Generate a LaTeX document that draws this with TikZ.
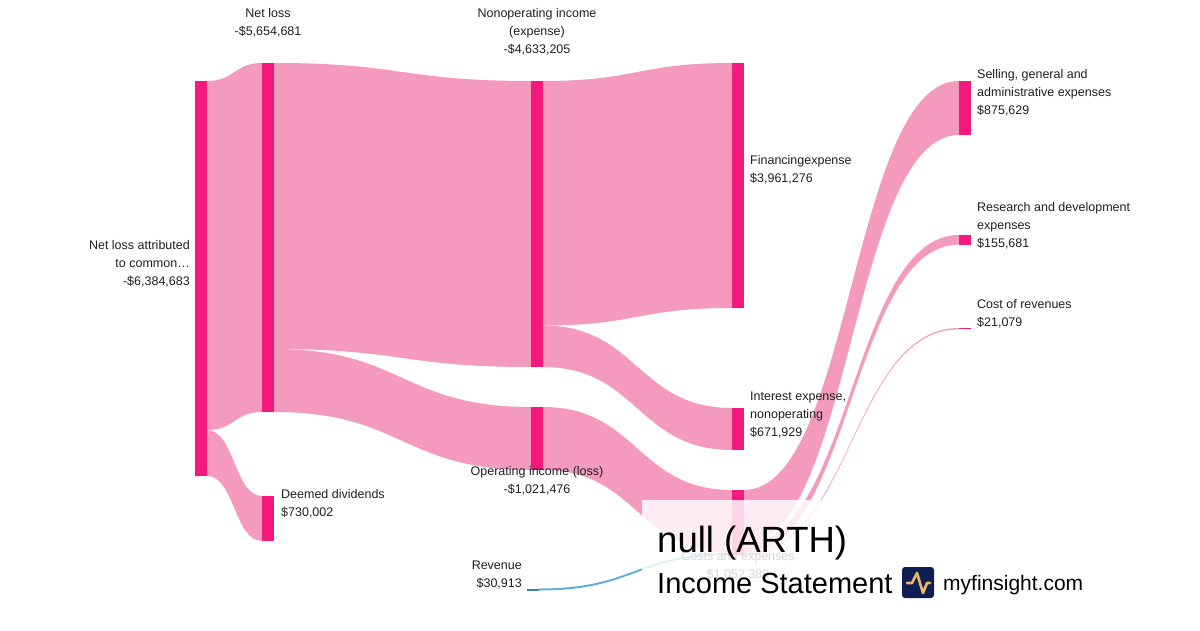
\documentclass[tikz,border=0pt]{standalone}
\usepackage{fontspec}
\setmainfont{Liberation Sans}

\definecolor{barpink}{HTML}{F41A7D}
\definecolor{flowpink}{HTML}{F49ABD}
\definecolor{revblue}{HTML}{5DAFD9}
\definecolor{revbar}{HTML}{3F82A8}
\definecolor{logonavy}{HTML}{0E1D52}
\definecolor{logogold}{HTML}{E9B66B}

% band from (x0,t0)-(x0,b0) to (x1,t1)-(x1,b1)
\newcommand{\sankeyflow}[7][flowpink]{%
  \fill[#1] (#2,#3) .. controls ({(#2+#5)/2},#3) and ({(#2+#5)/2},#6) .. (#5,#6)
    -- (#5,#7) .. controls ({(#2+#5)/2},#7) and ({(#2+#5)/2},#4) .. (#2,#4) -- cycle;}

\tikzset{
  lbl/.style={font=\fontsize{12.5}{18}\selectfont, inner sep=0pt, text=black!88},
  bar/.style={fill=barpink},
  headline/.style={inner sep=0pt, anchor=base west, text=black},
}

\begin{document}
\begin{tikzpicture}[x=1pt,y=-1pt]
    \useasboundingbox (0,0) rectangle (1200,630);
    % flows
    \sankeyflow{207}{81}{430}{262}{63}{412}
    \sankeyflow{207}{430}{476}{262}{496}{541}
    \sankeyflow{274}{63}{349}{531}{81}{367}
    \sankeyflow{274}{349}{412}{531}{407}{470}
    \sankeyflow{543}{81}{325.5}{732}{63}{308}
    \sankeyflow{543}{325.5}{367}{732}{408}{450}
    \sankeyflow{543}{407}{470}{732}{490}{553}
    \sankeyflow[revblue]{539}{588.5}{590.5}{732}{553}{555}
    \sankeyflow{744}{490}{544}{959}{81}{135}
    \sankeyflow{744}{544}{553.6}{959}{235}{244.6}
    \sankeyflow{744}{553.6}{555}{959}{328}{329.4}
    % bars
    \fill[bar] (195,81) rectangle (207,476);
    \fill[bar] (262,63) rectangle (274,412);
    \fill[bar] (262,496) rectangle (274,541);
    \fill[bar] (531,81) rectangle (543,367);
    \fill[bar] (531,407) rectangle (543,470);
    \fill[bar] (732,63) rectangle (744,308);
    \fill[bar] (732,408) rectangle (744,450);
    \fill[bar] (732,490) rectangle (744,555);
    \fill[bar] (959,81) rectangle (971,135);
    \fill[bar] (959,235) rectangle (971,244.6);
    \fill[bar] (959,328) rectangle (971,329.4);
    \fill[revbar] (527,588.5) rectangle (539,590.5);
    % labels
    \node[lbl, align=right, anchor=north east] (netcommon) at (190,240.5) {Net loss attributed\\to common…\\-\$6,384,683};
    \node[lbl, align=center, anchor=north] (netloss) at (268,8.5) {Net loss\\-\$5,654,681};
    \node[lbl, align=center, anchor=north] (nonop) at (537,8.5) {Nonoperating income\\(expense)\\-\$4,633,205};
    \node[lbl, align=center, anchor=north] (operating) at (537,466.5) {Operating income (loss)\\-\$1,021,476};
    \node[lbl, align=left, anchor=north west] (deemed) at (281,489.5) {Deemed dividends\\\$730,002};
    \node[lbl, align=right, anchor=north east] (revenue) at (522,560.5) {Revenue\\\$30,913};
    \node[lbl, align=left, anchor=north west] (financing) at (750,155.5) {Financingexpense\\\$3,961,276};
    \node[lbl, align=left, anchor=north west] (interest) at (750,391.5) {Interest expense,\\nonoperating\\\$671,929};
    \node[lbl, align=center, anchor=north] (costs) at (738,551.5) {Costs and expenses\\\$1,052,389};
    \node[lbl, align=left, anchor=north west] (sga) at (977,69.5) {Selling, general and\\administrative expenses\\\$875,629};
    \node[lbl, align=left, anchor=north west] (rnd) at (977,202.5) {Research and development\\expenses\\\$155,681};
    \node[lbl, align=left, anchor=north west] (cor) at (977,299.5) {Cost of revenues\\\$21,079};
    % title panel
    \fill[white, opacity=0.82] (642,500) rectangle (1100,630);
    \node[headline, font=\fontsize{36.5}{42}\selectfont] (title) at (657,552) {null (ARTH)};
    \node[headline, font=\fontsize{29}{34}\selectfont] (subtitle) at (657,593) {Income Statement};
    \fill[logonavy, rounded corners=3pt] (902,567) rectangle (934,598);
    \draw[logogold, line width=2.6pt, line cap=round, line join=round]
        (907,583) -- (912,583) -- (917,573) -- (923,593) -- (927,583) -- (930,583);
    \node[headline, font=\fontsize{21}{25}\selectfont] (brand) at (943,590) {myfinsight.com};
\end{tikzpicture}
\end{document}
